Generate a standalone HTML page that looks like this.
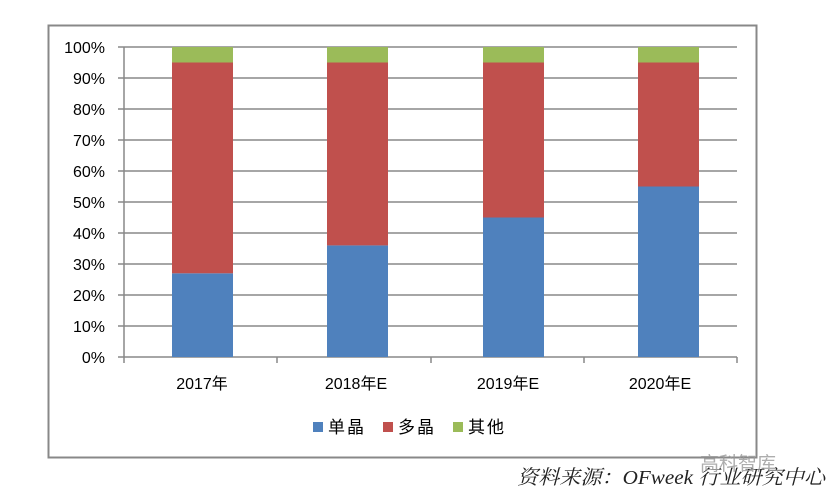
<!DOCTYPE html>
<html><head><meta charset="utf-8"><style>
body{margin:0;background:#fff;}
</style></head><body>
<svg width="834" height="503" xmlns="http://www.w3.org/2000/svg" style="display:block">
<rect x="0" y="0" width="834" height="503" fill="#fff"/>
<rect x="48.5" y="25.5" width="708" height="432" fill="none" stroke="#888" stroke-width="2"/>
<g stroke="#888" stroke-width="1.5">
<line x1="118" y1="47" x2="737" y2="47"/>
<line x1="118" y1="78" x2="737" y2="78"/>
<line x1="118" y1="109" x2="737" y2="109"/>
<line x1="118" y1="140" x2="737" y2="140"/>
<line x1="118" y1="171" x2="737" y2="171"/>
<line x1="118" y1="202" x2="737" y2="202"/>
<line x1="118" y1="233" x2="737" y2="233"/>
<line x1="118" y1="264" x2="737" y2="264"/>
<line x1="118" y1="295" x2="737" y2="295"/>
<line x1="118" y1="326" x2="737" y2="326"/>
<line x1="118" y1="357" x2="737" y2="357"/>
<line x1="124" y1="47" x2="124" y2="363"/>
<line x1="277" y1="357" x2="277" y2="363"/>
<line x1="431" y1="357" x2="431" y2="363"/>
<line x1="584" y1="357" x2="584" y2="363"/>
<line x1="737" y1="357" x2="737" y2="363"/>
</g>
<g>
<rect x="172" y="273.3" width="61" height="83.7" fill="#4f81bd"/>
<rect x="172" y="62.5" width="61" height="210.8" fill="#c0504d"/>
<rect x="172" y="47" width="61" height="15.5" fill="#9bbb59"/>
<rect x="327" y="245.4" width="61" height="111.6" fill="#4f81bd"/>
<rect x="327" y="62.5" width="61" height="182.9" fill="#c0504d"/>
<rect x="327" y="47" width="61" height="15.5" fill="#9bbb59"/>
<rect x="483" y="217.5" width="61" height="139.5" fill="#4f81bd"/>
<rect x="483" y="62.5" width="61" height="155" fill="#c0504d"/>
<rect x="483" y="47" width="61" height="15.5" fill="#9bbb59"/>
<rect x="638" y="186.5" width="61" height="170.5" fill="#4f81bd"/>
<rect x="638" y="62.5" width="61" height="124" fill="#c0504d"/>
<rect x="638" y="47" width="61" height="15.5" fill="#9bbb59"/>
</g>
<g font-family="Liberation Sans, Noto Sans CJK SC, sans-serif" font-size="16" fill="#000" text-anchor="end">
<text x="105" y="53">100%</text><text x="105" y="84">90%</text><text x="105" y="115">80%</text>
<text x="105" y="146">70%</text><text x="105" y="177">60%</text><text x="105" y="208">50%</text>
<text x="105" y="239">40%</text><text x="105" y="270">30%</text><text x="105" y="301">20%</text>
<text x="105" y="332">10%</text><text x="105" y="363">0%</text>
</g>
<g font-family="Liberation Sans, Noto Sans CJK SC, sans-serif" font-size="16" fill="#000" text-anchor="middle">
<text x="202" y="389">2017年</text><text x="356" y="389">2018年E</text>
<text x="508" y="389">2019年E</text><text x="660" y="389">2020年E</text>
</g>
<g font-family="Liberation Sans, Noto Sans CJK SC, sans-serif" font-size="17" fill="#000" letter-spacing="2">
<rect x="313" y="422" width="10" height="10" fill="#4f81bd"/><text x="328" y="433">单晶</text>
<rect x="383" y="422" width="10" height="10" fill="#c0504d"/><text x="398" y="433">多晶</text>
<rect x="453" y="422" width="10" height="10" fill="#9bbb59"/><text x="468" y="433">其他</text>
</g>
<text x="517" y="484" font-family="Liberation Serif, Noto Serif CJK SC, serif" font-style="italic" font-size="20" fill="#222" textLength="308" lengthAdjust="spacingAndGlyphs">资料来源：OFweek 行业研究中心</text>
<text x="700" y="470" font-family="Liberation Sans, Noto Sans CJK SC, sans-serif" font-size="19" fill="#999" opacity="0.8">高科智库</text>
</svg>
</body></html>
